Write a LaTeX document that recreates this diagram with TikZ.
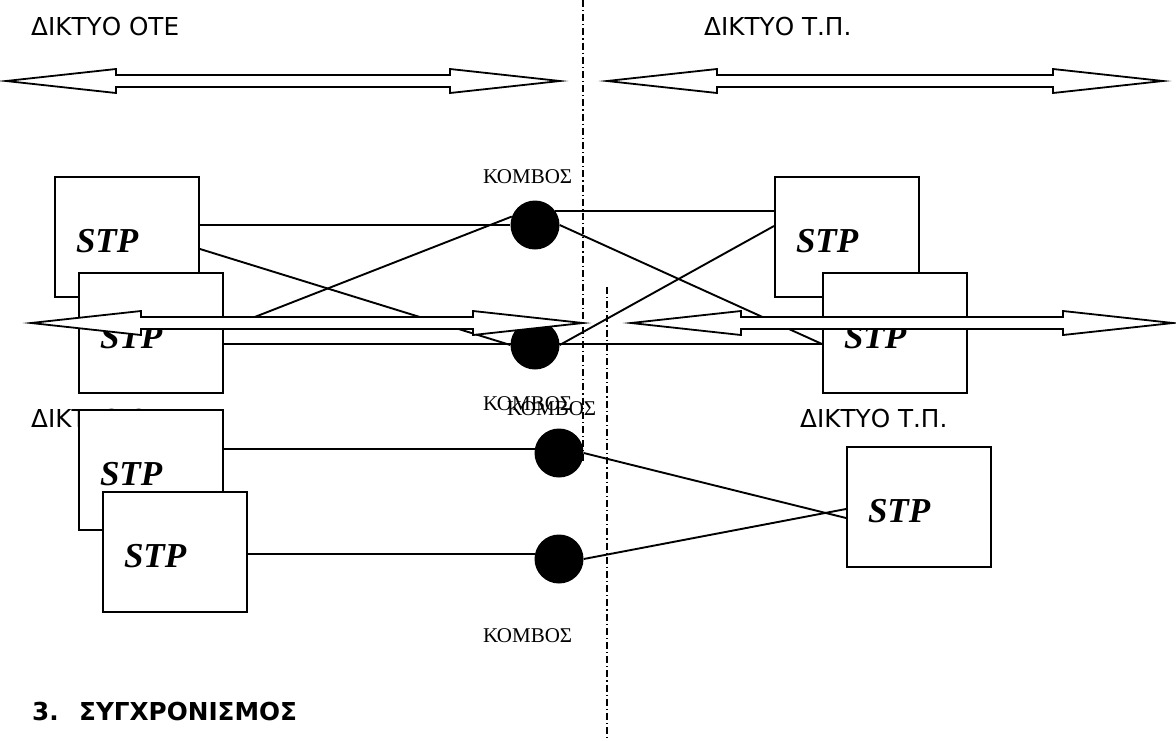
\documentclass[tikz,border=0pt]{standalone}
\usepackage{fontspec}
\newfontfamily\tahfont{DejaVu Sans}
\newfontfamily\timesfont{Liberation Serif}
\newcommand\dblarr[3]{%
  \draw[blockarrow] (#1,#3) -- ({#1+110},{#3-12}) -- ({#1+110},{#3-6}) -- ({#2-110},{#3-6}) -- ({#2-110},{#3-12}) -- (#2,#3)
    -- ({#2-110},{#3+12}) -- ({#2-110},{#3+6}) -- ({#1+110},{#3+6}) -- ({#1+110},{#3+12}) -- cycle;}
\tikzset{
  stpbox/.style={draw, fill=white, line width=2pt, minimum width=144pt, minimum height=120pt,
    inner xsep=21pt, text width=102pt, align=left, text height=31pt, text depth=0pt,
    font=\timesfont\fontsize{35}{36}\bfseries\itshape\selectfont},
  dot/.style={circle, fill=black, minimum size=49pt, inner sep=0pt},
  conn/.style={line width=1.9pt},
  divider/.style={line width=1.3pt, dash pattern=on 7pt off 3pt on 1.2pt off 3pt},
  blockarrow/.style={draw, fill=white, line width=1.8pt, line join=miter},
  tlabel/.style={anchor=base west, inner sep=0pt, font=\tahfont\fontsize{24.7}{28}\selectfont},
  klabel/.style={anchor=base west, inner sep=0pt, font=\timesfont\fontsize{21}{24}\selectfont},
  hlabel/.style={anchor=base west, inner sep=0pt, font=\tahfont\fontsize{24.7}{28}\bfseries\selectfont},
}
\begin{document}
\begin{tikzpicture}[x=1pt, y=-1pt]
\useasboundingbox (0,0) rectangle (1176,740);
% dividers
\coordinate (d1t) at (583,0);
\coordinate (d1b) at (583,463);
\coordinate (d2t) at (607,287);
\coordinate (d2b) at (607,740);
\draw[divider] (d1t) -- (d1b);
\draw[divider] (d2t) -- (d2b);
% upper section titles and arrows
\node[tlabel] (t1) at (31,35) {ΔΙΚΤΥΟ ΟΤΕ};
\node[tlabel] (t2) at (704,35) {ΔΙΚΤΥΟ Τ.Π.};
\dblarr{6}{560}{81}
\dblarr{607}{1163}{81}
% boxes
\node[stpbox] (b1) at (127,237) {STP};
\node[stpbox] (b2) at (151,333) {STP};
\node[stpbox] (rb1) at (847,237) {STP};
\node[stpbox] (rb2) at (895,333) {STP};
\node[dot] (c1) at (535,225) {};
\node[dot] (c2) at (535,345) {};
% connectors
\draw[conn] (b1.east |- c1.west) -- (c1.west);
\draw[conn] ([yshift=-12pt]b1.east) -- (c2.west);
\draw[conn] ([yshift=4pt]b2.east) -- (c1.160);
\draw[conn] ([yshift=-11pt]b2.east) -- ([yshift=-11pt]rb2.west);
\draw[conn] (c1.35) -- (c1.35 -| rb1.west);
\draw[conn] (c1.east) -- ([yshift=-11pt]rb2.west);
\draw[conn] (c2.east) -- ([yshift=11pt]rb1.west);
\node[klabel] (k1) at (483,183) {ΚΟΜΒΟΣ};
% middle arrows
\dblarr{31}{583}{323}
\dblarr{631}{1173}{323}
% lower section
\node[klabel] (k2) at (483,410) {ΚΟΜΒΟΣ};
\node[klabel] (k3) at (507,415) {ΚΟΜΒΟΣ};
\node[tlabel] (t3) at (31,427) {ΔΙΚΤΥΟ ΟΤΕ};
\node[tlabel] (t4) at (800,427) {ΔΙΚΤΥΟ Τ.Π.};
\node[stpbox] (b3) at (151,470) {STP};
\node[stpbox] (b4) at (175,552) {STP};
\node[stpbox] (rb3) at (919,507) {STP};
\node[dot] (c3) at (559,453) {};
\node[dot] (c4) at (559,559) {};
\draw[conn] (c3.170 -| b3.east) -- (c3.170);
\draw[conn] (c3.east) -- ([yshift=-11pt]rb3.west);
\draw[conn] (c4.168 -| b4.east) -- (c4.168);
\draw[conn] (c4.east) -- ([yshift=-2pt]rb3.west);
\node[klabel] (k4) at (483,642) {ΚΟΜΒΟΣ};
\node[hlabel] (h) at (32,720) {\makebox[47pt][l]{3.}ΣΥΓΧΡΟΝΙΣΜΟΣ};
\end{tikzpicture}
\end{document}
